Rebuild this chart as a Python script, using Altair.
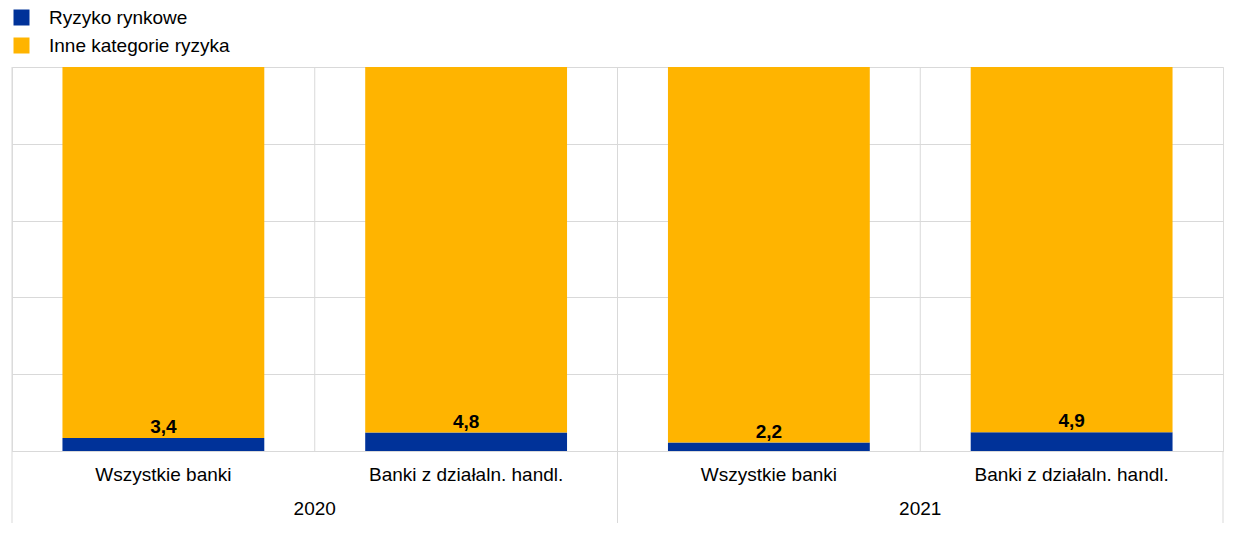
import altair as alt
import pandas as pd

years = ["2020", "2021"]
categories = ["Wszystkie banki", "Banki z działaln. handl."]
series = ["Ryzyko rynkowe", "Inne kategorie ryzyka"]
market = [3.4, 4.8, 2.2, 4.9]
other = [96.6, 95.2, 97.8, 95.1]

keys = [f"{y}|{c}" for y in years for c in categories]
colors = ["#003299", "#ffb400"]
FONT = "Liberation Sans"
GRID = "#d9d9d9"
W, H = 1211, 384

rows = []
for k, m, o in zip(keys, market, other):
    rows.append({"key": k, "series": series[0], "value": m, "ord": 0})
    rows.append({"key": k, "series": series[1], "value": o, "ord": 1})
bars_df = pd.DataFrame(rows)
lab_df = pd.DataFrame({"key": keys, "market": market})
grid_df = pd.DataFrame({"key": keys})
year_first = pd.DataFrame({"key": [f"{y}|{categories[0]}" for y in years], "year": years})
last_df = pd.DataFrame({"key": [keys[-1]]})

xscale = alt.Scale(domain=keys, paddingInner=0, paddingOuter=0)

def X(band=None, axis=None):
    kw = dict(type="nominal", sort=keys, scale=xscale, title=None)
    if band is not None:
        kw["bandPosition"] = band
    if axis is not None:
        kw["axis"] = axis
    return alt.X("key", **kw)

x_axis = alt.Axis(
    labelExpr="split(datum.label, '|')[1]", labelAngle=0, labelFontSize=19,
    labelColor="black", labelFont=FONT, ticks=False, domainColor=GRID,
    grid=False, labelPadding=23, labelAlign="center", labelLimit=400,
    labelBound=False, labelOverlap=False,
)

yscale = alt.Scale(domain=[0, 100])

grid_rules = alt.Chart(grid_df).mark_rule(color=GRID, strokeWidth=1).encode(
    x=X(0), y=alt.value(0), y2=alt.value(H)
)

bars = alt.Chart(bars_df).mark_bar(width=alt.RelativeBandSize(2 / 3)).encode(
    x=X(axis=x_axis),
    y=alt.Y("value:Q", stack="zero", scale=yscale,
            axis=alt.Axis(labels=False, ticks=False, domain=False, grid=True,
                          gridColor=GRID, values=[0, 20, 40, 60, 80, 100], title=None)),
    color=alt.Color("series:N", scale=alt.Scale(domain=series, range=colors),
                    legend=alt.Legend(
                        orient="none", legendX=0, legendY=-59, title=None,
                        symbolType="square", symbolSize=256, symbolStrokeWidth=0,
                        labelFontSize=19, labelFont=FONT, labelColor="black",
                        labelOffset=18, rowPadding=8, padding=0, direction="vertical",
                        labelLimit=400,
                    )),
    order=alt.Order("ord:Q"),
)

labels = alt.Chart(lab_df).transform_calculate(
    txt="replace(format(datum.market, '.1f'), '.', ',')"
).mark_text(fontSize=19, fontWeight="bold", font=FONT, color="black",
            baseline="alphabetic", dy=-5).encode(
    x=X(), y=alt.Y("market:Q", scale=yscale), text="txt:N"
)

year_rules = alt.Chart(year_first).mark_rule(color=GRID, strokeWidth=1).encode(
    x=X(0), y=alt.value(H), y2=alt.value(H + 72)
)
last_rule = alt.Chart(last_df).mark_rule(color=GRID, strokeWidth=1).encode(
    x=X(1), y=alt.value(H), y2=alt.value(H + 72)
)
year_text = alt.Chart(year_first).mark_text(
    fontSize=19, font=FONT, color="black", baseline="middle"
).encode(x=X(1), y=alt.value(H + 58), text="year:N")

chart = alt.layer(grid_rules, bars, labels, year_rules, last_rule, year_text).properties(
    width=W, height=H, padding={"left": 3, "top": 0, "right": 5, "bottom": 5}
).configure_view(stroke=GRID, strokeWidth=1).configure(font=FONT)

chart.save("out.html", embed_options={"renderer": "svg", "actions": False})
